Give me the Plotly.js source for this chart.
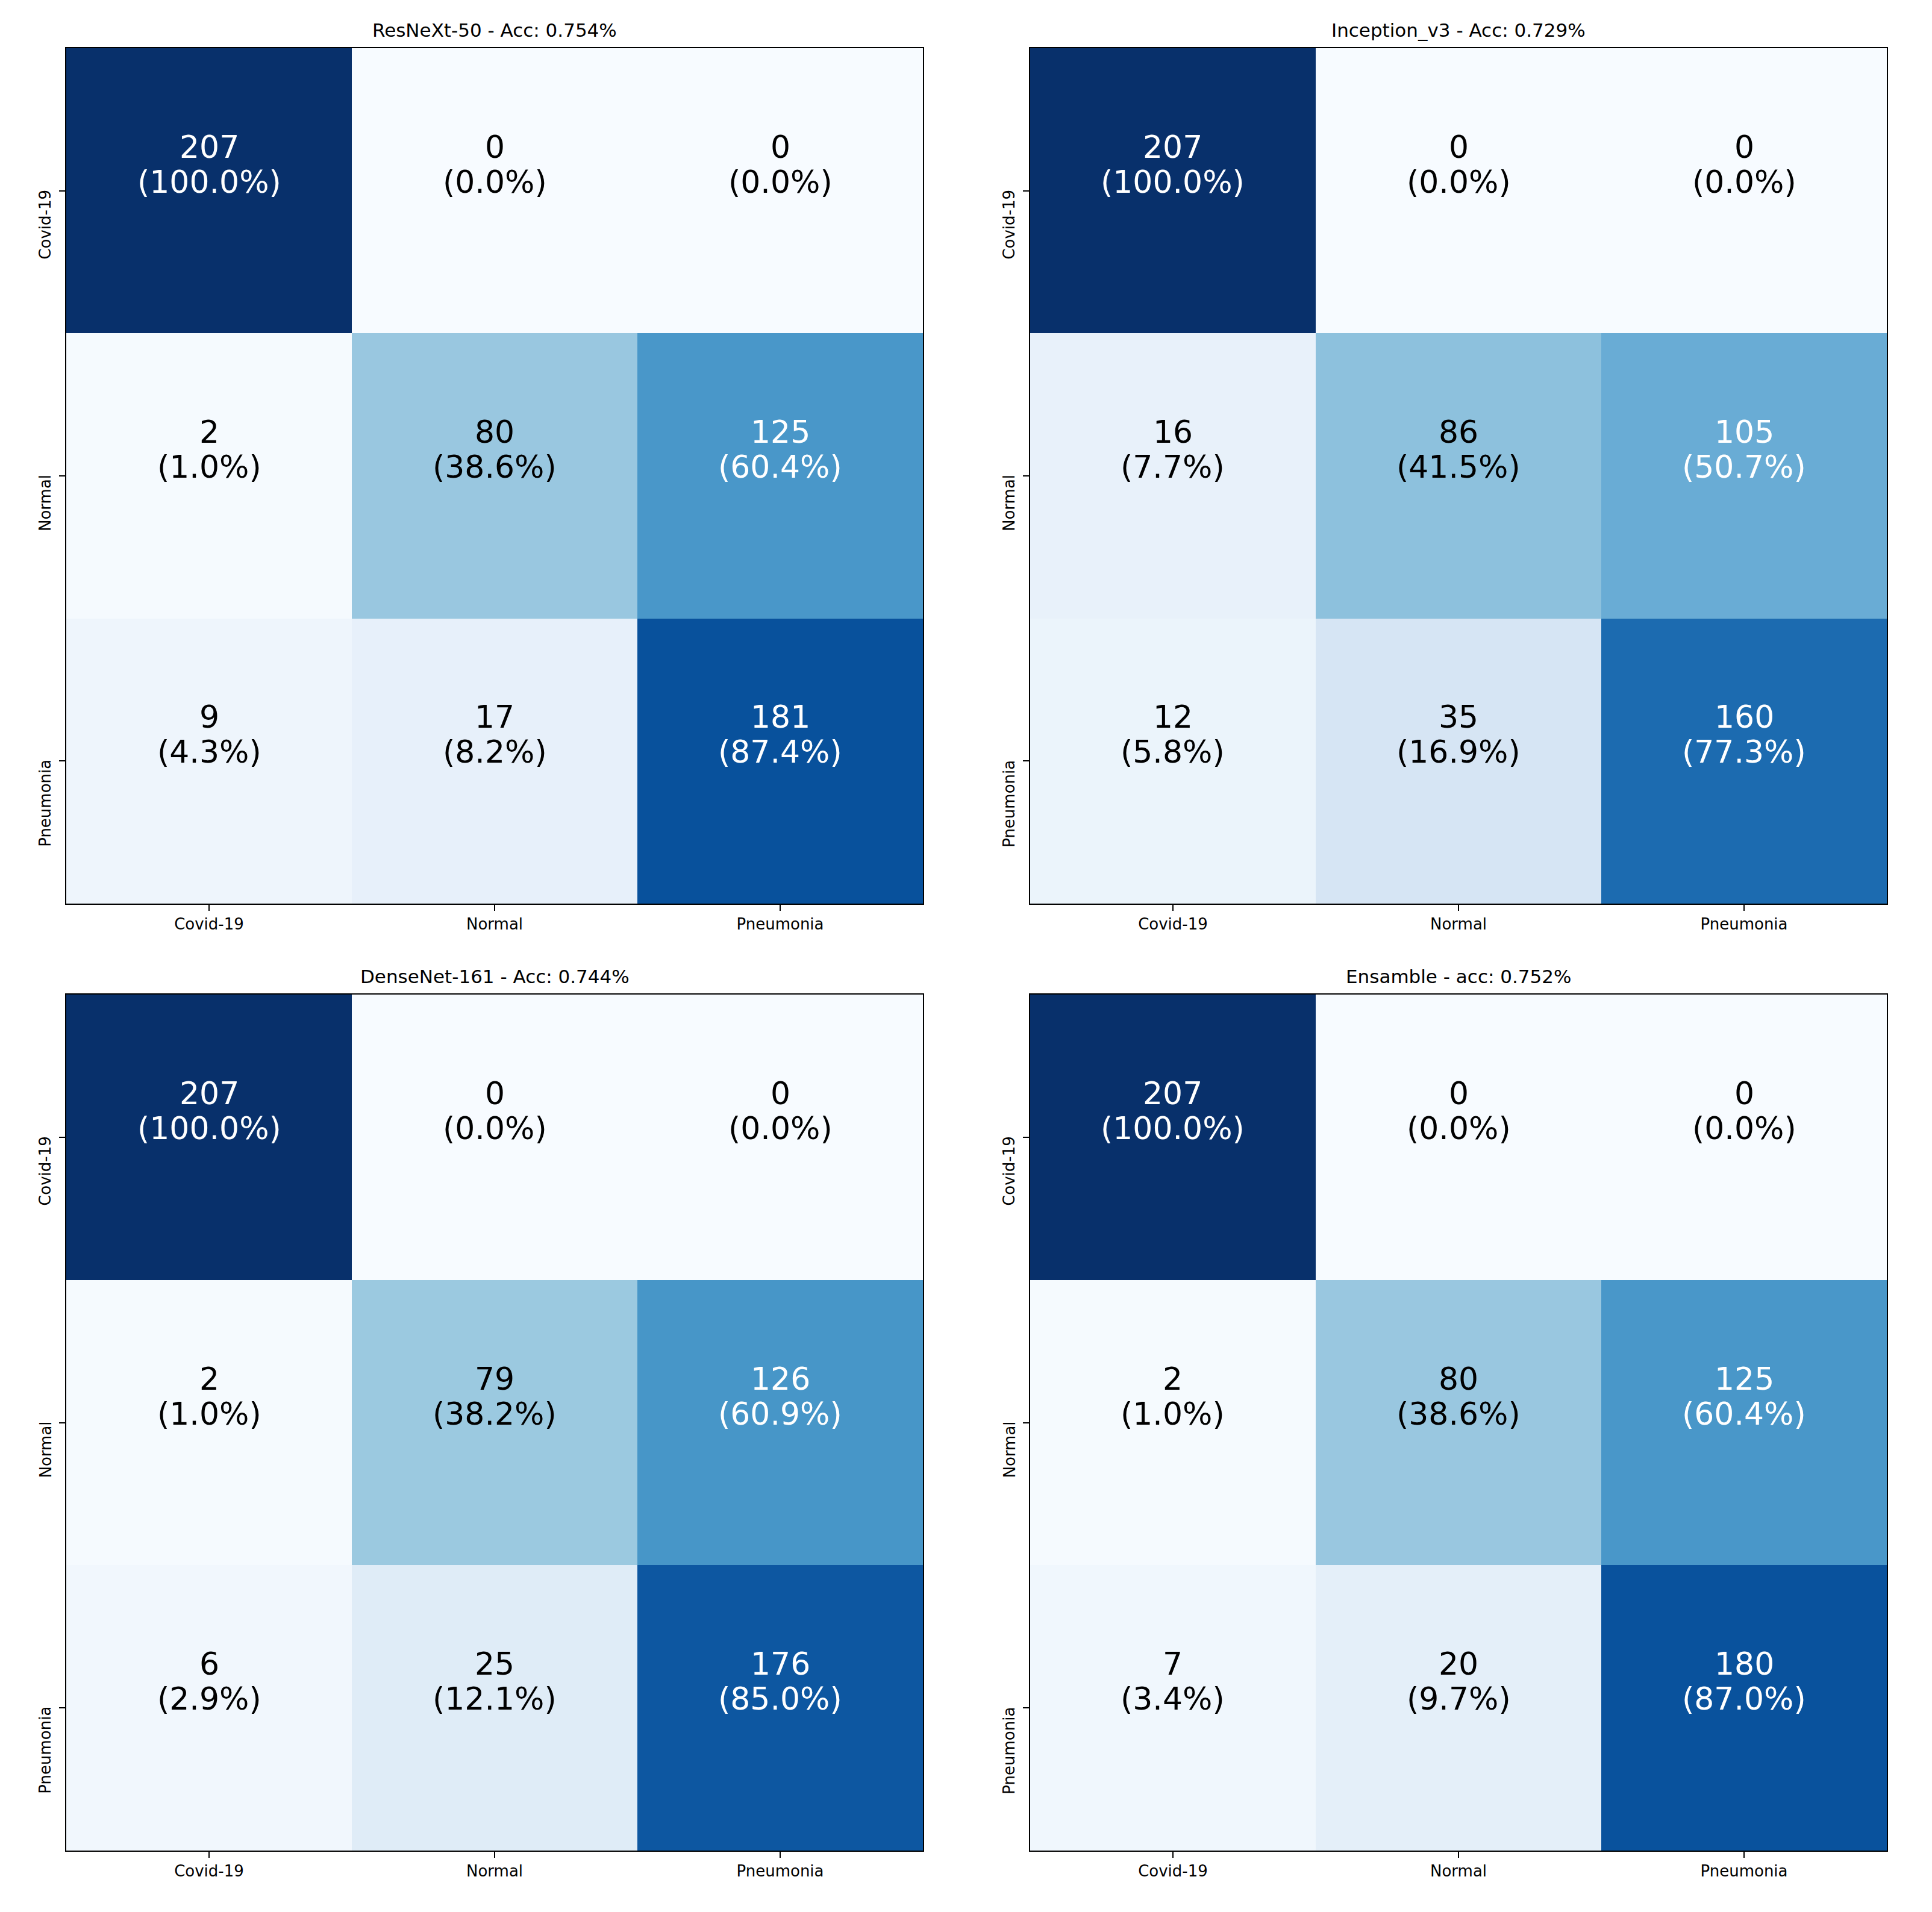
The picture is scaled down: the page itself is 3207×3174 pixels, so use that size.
<!DOCTYPE html>
<html>
<head>
    <script src="https://cdn.plot.ly/plotly-3.0.1.min.js"></script>
    <style>
        body { margin: 0; background: #ffffff; }
        #cmPlot { width: 3207px; height: 3174px; }
    </style>
</head>
<body>
    <div id="cmPlot"></div>

    <script>
        // class labels (rows = true, columns = predicted)
        const categories = ['Covid-19', 'Normal', 'Pneumonia'];

        const modelTitles = [
            'ResNeXt-50 - Acc: 0.754%',
            'Inception_v3 - Acc: 0.729%',
            'DenseNet-161 - Acc: 0.744%',
            'Ensamble - acc: 0.752%'
        ];

        // confusion matrix counts per model
        const resnextCounts = [
            [207, 0, 0],
            [2, 80, 125],
            [9, 17, 181]
        ];
        const inceptionCounts = [
            [207, 0, 0],
            [16, 86, 105],
            [12, 35, 160]
        ];
        const densenetCounts = [
            [207, 0, 0],
            [2, 79, 126],
            [6, 25, 176]
        ];
        const ensambleCounts = [
            [207, 0, 0],
            [2, 80, 125],
            [7, 20, 180]
        ];

        const allCounts = [resnextCounts, inceptionCounts, densenetCounts, ensambleCounts];

        // matplotlib "Blues"
        const bluesScale = [
            [0.000, '#f7fbff'],
            [0.125, '#deebf7'],
            [0.250, '#c6dbef'],
            [0.375, '#9ecae1'],
            [0.500, '#6baed6'],
            [0.625, '#4292c6'],
            [0.750, '#2171b5'],
            [0.875, '#08519c'],
            [1.000, '#08306b']
        ];

        const FONT = 'DejaVu Sans, Verdana, sans-serif';

        // panel placement in pixels (left, right, top, bottom)
        const W = 3207, H = 3174;
        const colPx = [[110, 1532], [1710, 3132]];
        const rowPx = [[80, 1500], [1651, 3072]];

        const data = [];
        const annotations = [];
        const layout = {
            width: W,
            height: H,
            margin: {l: 0, r: 0, t: 0, b: 0},
            paper_bgcolor: '#ffffff',
            plot_bgcolor: '#ffffff',
            showlegend: false,
            font: {family: FONT, color: '#000000'},
            annotations: annotations
        };

        allCounts.forEach(function (counts, k) {
            const n = k + 1;
            const xName = 'x' + (n === 1 ? '' : n);
            const yName = 'y' + (n === 1 ? '' : n);
            const col = k % 2, row = Math.floor(k / 2);

            const flat = counts.flat();
            const zmax = Math.max.apply(null, flat);
            const zmin = Math.min.apply(null, flat);
            const thresh = (zmax + zmin) / 2;

            data.push({
                type: 'heatmap',
                x: categories,
                y: categories,
                z: counts,
                colorscale: bluesScale,
                zmin: zmin,
                zmax: zmax,
                showscale: false,
                hoverinfo: 'skip',
                xaxis: xName,
                yaxis: yName
            });

            const axisCommon = {
                showline: true,
                mirror: true,
                linecolor: '#000000',
                linewidth: 2,
                ticks: 'outside',
                ticklen: 10,
                tickwidth: 2,
                tickcolor: '#000000',
                tickfont: {family: FONT, size: 26, color: '#000000'},
                showgrid: false,
                zeroline: false,
                fixedrange: true
            };

            layout['xaxis' + (n === 1 ? '' : n)] = Object.assign({}, axisCommon, {
                domain: [colPx[col][0] / W, colPx[col][1] / W],
                anchor: yName
            });
            layout['yaxis' + (n === 1 ? '' : n)] = Object.assign({}, axisCommon, {
                domain: [1 - rowPx[row][1] / H, 1 - rowPx[row][0] / H],
                anchor: xName,
                autorange: 'reversed',
                showticklabels: false
            });

            // panel title
            annotations.push({
                xref: xName + ' domain',
                yref: yName + ' domain',
                x: 0.5,
                y: 1,
                xanchor: 'center',
                yanchor: 'bottom',
                yshift: 10,
                showarrow: false,
                text: modelTitles[k],
                font: {family: FONT, size: 31, color: '#000000'}
            });

            // rotated row labels, starting at the tick and running downward
            categories.forEach(function (cat) {
                annotations.push({
                    xref: xName + ' domain',
                    yref: yName,
                    x: 0,
                    y: cat,
                    xanchor: 'right',
                    yanchor: 'top',
                    xshift: -18,
                    yshift: 4,
                    textangle: -90,
                    showarrow: false,
                    text: cat,
                    font: {family: FONT, size: 26, color: '#000000'}
                });
            });

            // cell text: count over row percentage
            counts.forEach(function (rowVals, i) {
                const rowSum = rowVals.reduce(function (a, b) { return a + b; }, 0);
                rowVals.forEach(function (v, j) {
                    const color = v > thresh ? '#ffffff' : '#000000';
                    const pct = (v / rowSum * 100).toFixed(1);
                    annotations.push({
                        xref: xName, yref: yName,
                        x: categories[j], y: categories[i],
                        text: String(v),
                        showarrow: false,
                        yanchor: 'middle',
                        yshift: 73,
                        font: {family: FONT, size: 52, color: color}
                    });
                    annotations.push({
                        xref: xName, yref: yName,
                        x: categories[j], y: categories[i],
                        text: '(' + pct + '%)',
                        showarrow: false,
                        yanchor: 'middle',
                        yshift: 15,
                        font: {family: FONT, size: 52, color: color}
                    });
                });
            });
        });

        Plotly.newPlot('cmPlot', data, layout, {displayModeBar: false, staticPlot: true});
    </script>
</body>
</html>
